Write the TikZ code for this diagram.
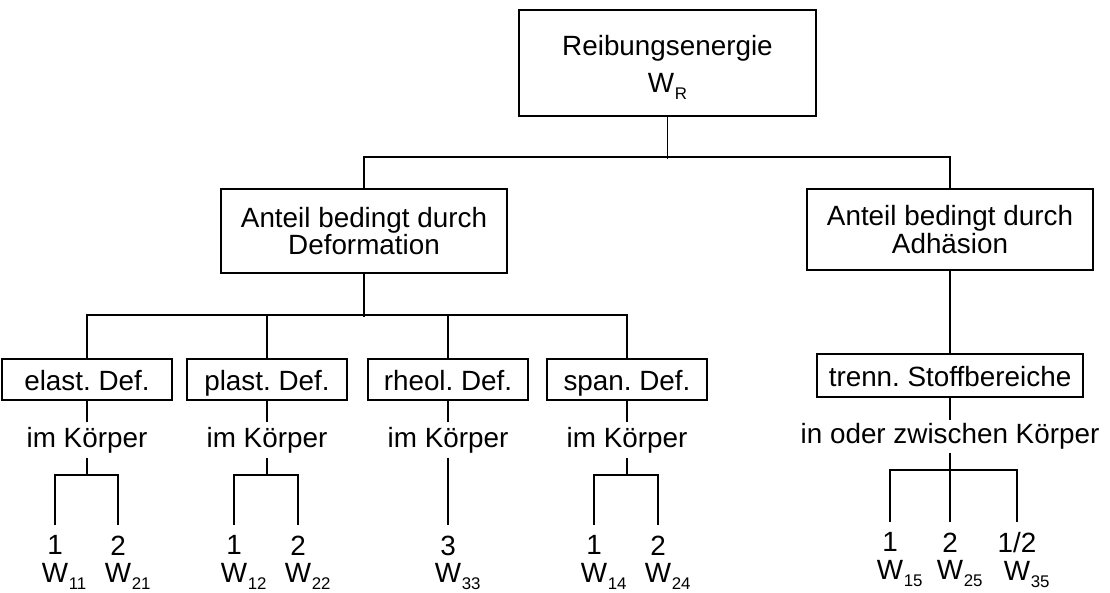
\documentclass[tikz,border=0pt]{standalone}
\usepackage{fontspec}
\setmainfont{Liberation Sans}
\frenchspacing
\newcommand\Wi[1]{W\rlap{\kern0.5pt\raisebox{-5pt}{\fontsize{12}{12}\selectfont #1}}}
\newcommand\WR{W\kern0.5pt\raisebox{-5pt}{\fontsize{12}{12}\selectfont R}}
\tikzset{
    box/.style={draw, line width=1.4pt, inner sep=0pt, align=center},
    sbox/.style={box, minimum height=1.025cm, text height=16pt, text depth=0pt},
    txt/.style={inner sep=0pt, minimum height=0.85cm},
    leaf/.style={anchor=north, inner xsep=0pt, inner ysep=0.25cm, align=center,
        execute at begin node={\rule{0pt}{14pt}}}
}
\begin{document}
\begin{tikzpicture}[x=0.025cm, y=-0.025cm, line width=0.8pt, font=\fontsize{19.8}{19.5}\selectfont]
        \useasboundingbox (0,0) rectangle (1110,592);

        \node[box, minimum width=7.425cm, minimum height=2.65cm] (reib) at (667.5, 63) {\rule{0pt}{20pt}Reibungsenergie\\[6.8pt]\WR};

        \node[box, minimum width=7.125cm, minimum height=2.1cm] (defo) at (364, 231) {Anteil bedingt durch\\Deformation};
        \node[box, minimum width=7.125cm, minimum height=2.025cm] (adh) at (950, 229.5) {Anteil bedingt durch\\Adhäsion};

        \node[sbox, minimum width=4.225cm] (elast) at (87, 379.5) {elast. Def.};
        \node[sbox, minimum width=4cm] (plast) at (267, 379.5) {plast. Def.};
        \node[sbox, minimum width=4cm] (rheol) at (448, 379.5) {rheol. Def.};
        \node[sbox, minimum width=4cm] (span) at (627, 379.5) {span. Def.};
        \node[sbox, minimum width=6.65cm, minimum height=1.075cm] (trenn) at (950, 375.5) {trenn. Stoffbereiche};

        \node[txt] (k1) at (87, 440) {im Körper};
        \node[txt] (k2) at (267, 440) {im Körper};
        \node[txt] (k3) at (448, 440) {im Körper};
        \node[txt] (k4) at (627, 440) {im Körper};
        \node[txt, minimum height=0.775cm] (zw) at (950, 436.5) {in oder zwischen Körper};

        \node[leaf] (l11) at (55, 525) {1\\\Wi{11}};
        \node[leaf] (l21) at (118, 525) {2\\\Wi{21}};
        \node[leaf] (l12) at (234, 525) {1\\\Wi{12}};
        \node[leaf] (l22) at (298, 525) {2\\\Wi{22}};
        \node[leaf] (l33) at (448, 525) {3\\\Wi{33}};
        \node[leaf] (l14) at (594, 525) {1\\\Wi{14}};
        \node[leaf] (l24) at (658, 525) {2\\\Wi{24}};
        \node[leaf] (l15) at (890, 522) {1\\\Wi{15}};
        \node[leaf] (l25) at (950, 522) {2\\\Wi{25}};
        \node[leaf] (l35) at (1017, 522) {1/2\\\Wi{35}};

        \draw (reib.south) -- ++(0, 42);
        \draw (defo.north) -- ++(0, -31) -| (adh.north);

        \draw (defo.south) -- ++(0, 43);
        \draw (elast.north) -- ++(0, -43) -| (span.north);
        \draw (plast.north) -- ++(0, -43);
        \draw (rheol.north) -- ++(0, -43);
        \draw (adh.south) -- (trenn.north);

        \draw (elast.south) -- (k1.north);
        \draw (plast.south) -- (k2.north);
        \draw (rheol.south) -- (k3.north);
        \draw (span.south) -- (k4.north);
        \draw (trenn.south) -- (zw.north);

        \draw (k1.south) -- ++(0, 18);
        \draw (l11.north) -- ++(0, -50) -| (l21.north);
        \draw (k2.south) -- ++(0, 18);
        \draw (l12.north) -- ++(0, -50) -| (l22.north);
        \draw (k3.south) -- (l33.north);
        \draw (k4.south) -- ++(0, 18);
        \draw (l14.north) -- ++(0, -50) -| (l24.north);
        \draw (zw.south) -- (l25.north);
        \draw (l15.north) -- ++(0, -52) -| (l35.north);
    \end{tikzpicture}
\end{document}
